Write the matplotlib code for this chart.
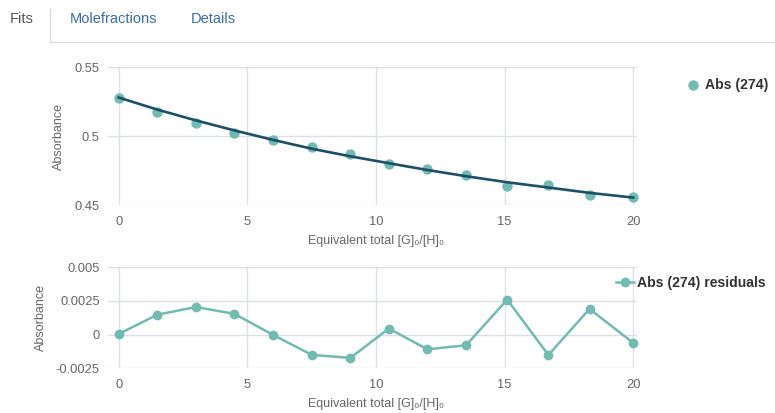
import matplotlib
matplotlib.use("Agg")
import matplotlib.pyplot as plt
from matplotlib.lines import Line2D

plt.rcParams["font.family"] = ["Liberation Sans", "DejaVu Sans"]

# titration data: equivalents of guest, measured absorbance and fit residuals
equiv = [0, 1.5, 3.0, 4.5, 6.0, 7.5, 9.0, 10.5, 12.0, 13.5, 15.1, 16.7, 18.3, 20.0]
abs_274 = [0.5280, 0.5178, 0.5094, 0.5026, 0.4973, 0.4924, 0.4871,
           0.4799, 0.4765, 0.4717, 0.4639, 0.4642, 0.4569, 0.4560]
resid_274 = [0.00005, 0.00148, 0.00205, 0.00154, -0.00002, -0.00150, -0.00173,
             0.00045, -0.00109, -0.00079, 0.00260, -0.00151, 0.00191, -0.00062]
# fitted curve = data + residual
fit_274 = [a + r for a, r in zip(abs_274, resid_274)]

top_yticks = [0.45, 0.5, 0.55]
top_ylabels = ["0.45", "0.5", "0.55"]
bot_yticks = [-0.0025, 0, 0.0025, 0.005]
bot_ylabels = ["-0.0025", "0", "0.0025", "0.005"]
xticks = [0, 5, 10, 15, 20]

PT = "#72bbb3"
FIT = "#1c4f68"
GRID = "#dde1e6"
TXT = "#666666"
XLABEL = "Equivalent total [G]\u2080/[H]\u2080"

W, H = 775, 413
fig = plt.figure(figsize=(W / 100, H / 100), dpi=100)


def px(x0, y0, x1, y1):
    return [x0 / W, 1 - y1 / H, (x1 - x0) / W, (y1 - y0) / H]


def style(ax, yticks, ylabels, ylab_x, xlab_y):
    ax.set_xlim(-0.416, 20.144)
    ax.set_xticks(xticks)
    ax.set_xticklabels([str(t) for t in xticks])
    ax.set_yticks(yticks)
    ax.set_yticklabels(ylabels)
    ax.set_ylim(yticks[0], yticks[-1])
    for s in ax.spines.values():
        s.set_visible(False)
    ax.grid(True, color=GRID, lw=1)
    ax.set_axisbelow(True)
    ax.tick_params(length=0, labelsize=9.3, colors=TXT)
    ax.tick_params(axis="x", pad=8)
    ax.tick_params(axis="y", pad=6)
    ax.set_ylabel("Absorbance", fontsize=9.0, color=TXT)
    ax.yaxis.set_label_coords(ylab_x, 0.5)
    ax.set_xlabel(XLABEL, fontsize=9.0, color=TXT, va="center")
    ax.xaxis.set_label_coords(0.5066, xlab_y)


def legend(ax, x, y, hl, pad):
    lg = ax.legend(loc="center left", bbox_to_anchor=(x / W, 1 - y / H),
                   bbox_transform=fig.transFigure, frameon=False, borderpad=0,
                   handlelength=hl, handletextpad=pad,
                   prop={"weight": "bold", "size": 10.1})
    for t in lg.get_texts():
        t.set_color("#333333")


# fit panel
ax1 = fig.add_axes(px(108, 67.3, 637, 205))
ax1.scatter(equiv, abs_274, s=42, color=PT, zorder=3, label="Abs (274)", clip_on=False)
ax1.plot(equiv, fit_274, color=FIT, lw=1.9, zorder=4, clip_on=False)
style(ax1, top_yticks, top_ylabels, -0.081, (205 - 241) / 137.7)
legend(ax1, 680, 85, 0.8, 0.5)

# residuals panel
ax2 = fig.add_axes(px(108, 267.3, 637, 368.3))
ax2.plot(equiv, resid_274, color=PT, lw=1.8, marker="o", ms=6,
         label="Abs (274) residuals", zorder=3, clip_on=False)
style(ax2, bot_yticks, bot_ylabels, -0.115, (368.3 - 404) / 101)
legend(ax2, 609, 283, 1.25, 0.28)

# tab strip
tab_font = dict(fontsize=10.5, va="center")
fig.text(10 / W, 1 - 19 / H, "Fits", color="#555555", **tab_font)
fig.text(70 / W, 1 - 19 / H, "Molefractions", color="#3a6ea5", **tab_font)
fig.text(191 / W, 1 - 19 / H, "Details", color="#3a6ea5", **tab_font)
fig.add_artist(Line2D([50 / W, 50 / W], [1 - 9 / H, 1 - 42 / H],
                      transform=fig.transFigure, color="#dddddd", lw=1))
fig.add_artist(Line2D([50 / W, 1], [1 - 42 / H, 1 - 42 / H],
                      transform=fig.transFigure, color="#dddddd", lw=1))

fig.savefig("out.png", dpi=100)
